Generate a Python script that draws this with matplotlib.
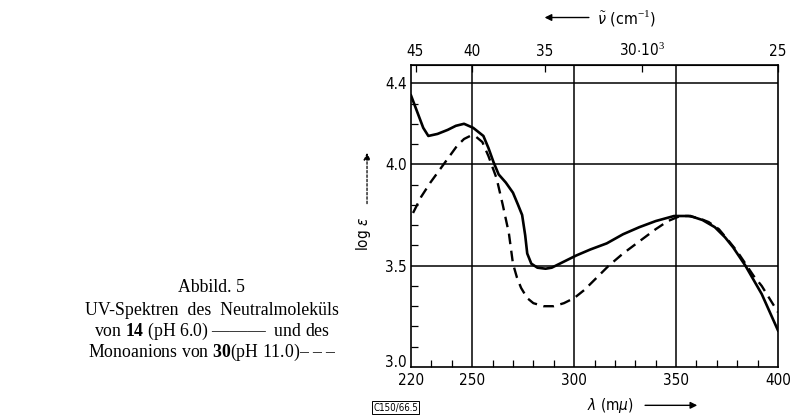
import numpy as np
import matplotlib as mpl
mpl.use('Agg')
import matplotlib.pyplot as plt
import matplotlib.transforms as mtransforms
from matplotlib.ticker import MultipleLocator

plt.rcParams['font.family'] = ['DejaVu Sans']
plt.rcParams['font.stretch'] = 'condensed'
plt.rcParams['mathtext.fontset'] = 'custom'
plt.rcParams['mathtext.rm'] = 'Liberation Serif'
plt.rcParams['mathtext.bf'] = 'Liberation Serif:bold'

# ------------------------------------------------------------------
# Data (wavelength in m-mu, log eps)
# ------------------------------------------------------------------
lam_neutral = [220, 223, 226, 228.5, 233, 238, 242, 246, 250.5, 255.5, 258, 260.5,
               263, 266.5, 270, 272.5, 274.5, 276, 277, 279, 282, 286, 289, 295,
               301, 308, 316, 324, 332, 340, 349, 357, 363, 369, 374, 378, 384,
               388, 392, 396, 400]
log_neutral = [4.34, 4.26, 4.18, 4.14, 4.15, 4.17, 4.19, 4.20, 4.18, 4.14, 4.08, 4.01,
               3.95, 3.91, 3.86, 3.80, 3.75, 3.65, 3.56, 3.51, 3.49, 3.485, 3.49, 3.52,
               3.55, 3.58, 3.61, 3.655, 3.69, 3.72, 3.745, 3.745, 3.725, 3.69, 3.64,
               3.59, 3.50, 3.43, 3.36, 3.27, 3.18]

lam_anion = [221, 225, 229.5, 236, 242.5, 246, 249, 252, 255, 258, 262, 265, 268,
             270, 272, 274, 277, 280, 285, 290, 295, 300, 305, 311, 317, 324, 332,
             340, 346, 352, 356, 361, 366, 371, 376, 380, 384, 388, 392, 396, 400]
log_anion = [3.76, 3.84, 3.91, 4.00, 4.09, 4.125, 4.14, 4.135, 4.11, 4.04, 3.93, 3.80,
             3.66, 3.51, 3.44, 3.39, 3.34, 3.315, 3.30, 3.30, 3.315, 3.34, 3.38, 3.44,
             3.50, 3.56, 3.62, 3.68, 3.72, 3.745, 3.745, 3.735, 3.715, 3.68, 3.62,
             3.57, 3.51, 3.45, 3.40, 3.335, 3.27]

x_ticks = [220, 250, 300, 350, 400]
y_ticks = [3.0, 3.5, 4.0, 4.4]
y_ticklabels = ['3.0', '3.5', '4.0', '4.4']
nu_ticks = [45, 40, 35, 30, 25]
nu_ticklabels = ['45', '40', '35', r'30$\cdot$10$^3$', '25']

# ------------------------------------------------------------------
fig = plt.figure(figsize=(7.91, 4.17), dpi=100)
ax = fig.add_axes([0.5196, 0.1199, 0.4640, 0.7242])

for x in [250, 300, 350]:
    ax.axvline(x, color='black', lw=1.1, zorder=1)
for y in [3.5, 4.0, 4.4]:
    ax.axhline(y, color='black', lw=1.1, zorder=1)

ax.plot(lam_neutral, log_neutral, color='black', lw=1.9, zorder=3)
ax.plot(lam_anion, log_anion, color='black', lw=1.7, dashes=(4.5, 2.8), zorder=3)

ax.set_xlim(220, 400)
ax.set_ylim(3.0, 4.49)
ax.set_xticks(x_ticks)
ax.set_yticks(y_ticks)
ax.set_yticklabels(y_ticklabels)
ax.xaxis.set_minor_locator(MultipleLocator(10))
ax.yaxis.set_minor_locator(MultipleLocator(0.1))
ax.tick_params(which='both', direction='in', labelsize=11)
ax.tick_params(which='major', length=0)
ax.tick_params(which='minor', length=5, width=0.9)
ax.tick_params(axis='x', pad=4)
ax.tick_params(axis='y', pad=3)
for s in ax.spines.values():
    s.set_linewidth(1.2)

# lift "3.0" a little so it clears "220"
lbl = ax.get_yticklabels()[0]
lbl.set_transform(lbl.get_transform() + mtransforms.ScaledTranslation(0, 4 / 72, fig.dpi_scale_trans))

# top wavenumber axis (10^3 cm^-1)
top = ax.secondary_xaxis('top', functions=(lambda l: 1e4 / np.asarray(l, float),
                                           lambda n: 1e4 / np.asarray(n, float)))
top.set_xticks(nu_ticks)
top.set_xticklabels(nu_ticklabels)
top.tick_params(direction='in', length=5, width=0.9, labelsize=11, pad=4)

# axis labels with arrows
fig.text(0.755, 0.958, r'$\tilde{\nu}$ (cm$^{-1}$)', fontsize=11.5, va='center', ha='left',
         family=['DejaVu Sans'])
ax.annotate('', xy=(0.685, 0.958), xytext=(0.748, 0.958), xycoords='figure fraction',
            arrowprops=dict(arrowstyle='-|>', color='black', lw=1.0, mutation_scale=10))
fig.text(0.742, 0.028, r'$\lambda$ (m$\mu$)', fontsize=11, va='center', ha='left',
         family=['DejaVu Sans'])
ax.annotate('', xy=(0.885, 0.028), xytext=(0.812, 0.028), xycoords='figure fraction',
            arrowprops=dict(arrowstyle='-|>', color='black', lw=1.0, mutation_scale=10))
fig.text(0.460, 0.44, r'log $\varepsilon$', fontsize=11, rotation=90, va='center', ha='center',
         family=['DejaVu Sans'])
ax.annotate('', xy=(0.464, 0.64), xytext=(0.464, 0.505), xycoords='figure fraction',
            arrowprops=dict(arrowstyle='-|>', color='black', lw=0.9, ls=(0, (2, 1.5)),
                            mutation_scale=10))

fig.text(0.500, 0.022, 'C150/66.5', fontsize=7, ha='center', va='center',
         bbox=dict(boxstyle='square,pad=0.15', fc='white', ec='black', lw=0.7))

# caption block on the left
cap = dict(family='Liberation Serif', fontsize=12.8, ha='center', va='center')
fig.text(0.268, 0.310, 'Abbild. 5', **cap)
fig.text(0.268, 0.256, 'UV-Spektren  des  Neutralmoleküls', **cap)
fig.text(0.268, 0.206, r'von $\mathbf{14}$ (pH 6.0) ———  und des', **cap)
fig.text(0.268, 0.156, r'Monoanions von $\mathbf{30}$(pH 11.0)– – –', **cap)

fig.savefig('out.png', dpi=100, facecolor='white')
plt.close(fig)
